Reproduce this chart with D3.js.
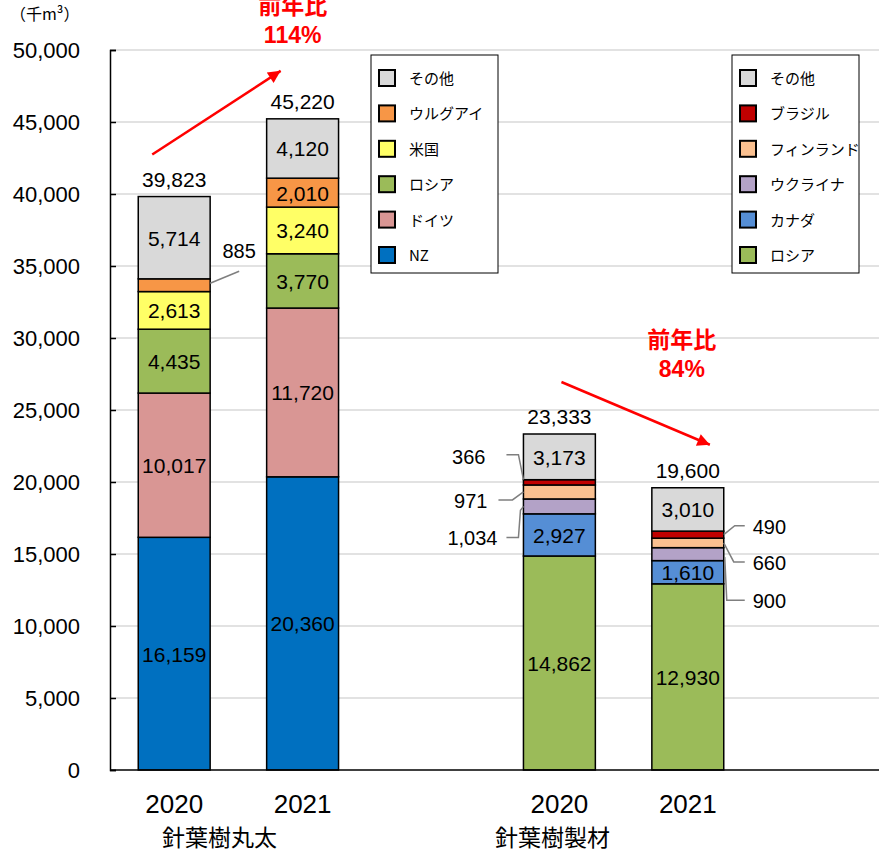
<!DOCTYPE html>
<head>
    <meta charset="utf-8">
    <script src="https://d3js.org/d3.v7.min.js"></script>
    <style>
        body {
            margin: 0;
            background: #fff;
            font-family: Arial, "Liberation Sans", "Noto Sans CJK JP", sans-serif;
        }
        .grid line { stroke: #d9d9d9; stroke-width: 1.5px; }
        .bars rect { stroke: #000; stroke-width: 1.5px; }
        .lead { fill: none; stroke: #7f7f7f; stroke-width: 1.5px; }
        .legend rect.sw { stroke: #000; stroke-width: 2px; }
        .jp { font-family: "Noto Sans CJK JP", sans-serif; }
    </style>
</head>
<body>
<svg id="svg" width="879" height="853"></svg>
<script>
// data
const years = ["2020", "2021"];
const groups = ["針葉樹丸太", "針葉樹製材"];

const logSeries = ["NZ", "ドイツ", "ロシア", "米国", "ウルグアイ", "その他"];
const logColors = ["#0070c0", "#d99694", "#9bbb59", "#ffff66", "#f79646", "#d9d9d9"];
const log2020 = [16159, 10017, 4435, 2613, 885, 5714];
const log2021 = [20360, 11720, 3770, 3240, 2010, 4120];

const lumberSeries = ["ロシア", "カナダ", "ウクライナ", "フィンランド", "ブラジル", "その他"];
const lumberColors = ["#9bbb59", "#558ed5", "#b3a2c7", "#fac090", "#c00000", "#d9d9d9"];
const lumber2020 = [14862, 2927, 1034, 971, 366, 3173];
const lumber2021 = [12930, 1610, 900, 660, 490, 3010];

const yTicks = [0, 5000, 10000, 15000, 20000, 25000, 30000, 35000, 40000, 45000, 50000];

const columns = [
    { key: "log-2020", year: years[0], values: log2020, colors: logColors },
    { key: "log-2021", year: years[1], values: log2021, colors: logColors },
    { key: "lumber-2020", year: years[0], values: lumber2020, colors: lumberColors },
    { key: "lumber-2021", year: years[1], values: lumber2021, colors: lumberColors }
];

const svg = d3.select("#svg");
const fmt = d3.format(",");

const x = d3.scaleBand()
    .domain(["log-2020", "log-2021", "gap", "lumber-2020", "lumber-2021"])
    .range([110, 752])
    .paddingInner(0.44)
    .paddingOuter(0.22);
const bw = x.bandwidth();
const y = d3.scaleLinear().domain([0, 50000]).range([770, 50]);

// grid
svg.append("g").attr("class", "grid")
    .selectAll("line").data(yTicks.slice(1)).enter().append("line")
    .attr("x1", 110).attr("x2", 879)
    .attr("y1", d => y(d)).attr("y2", d => y(d));

// y axis
const yAxis = svg.append("g")
    .attr("transform", "translate(110,0)")
    .call(d3.axisLeft(y).tickValues(yTicks).tickFormat(fmt).tickSize(-6).tickPadding(30));
yAxis.select(".domain").attr("stroke", "#000").attr("stroke-width", 1.5);
yAxis.selectAll(".tick line").attr("stroke", "#000").attr("stroke-width", 1.5);
yAxis.selectAll(".tick text").attr("font-size", 22).attr("font-family", "Arial, 'Liberation Sans', sans-serif").attr("fill", "#000");

svg.append("text").attr("class", "jp")
    .attr("x", 10).attr("y", 20).attr("font-size", 16)
    .text("（千m³）");

// bars
columns.forEach(c => {
    const ends = Array.from(d3.cumsum(c.values));
    c.segs = c.values.map((v, i) => ({ v: v, y0: ends[i] - v, y1: ends[i], color: c.colors[i] }));
    c.total = d3.sum(c.values);
});

const bars = svg.append("g").attr("class", "bars");
columns.forEach(c => {
    const g = bars.append("g");
    g.selectAll("rect").data(c.segs).enter().append("rect")
        .attr("x", x(c.key))
        .attr("width", bw)
        .attr("y", d => y(d.y1))
        .attr("height", d => y(d.y0) - y(d.y1))
        .attr("fill", d => d.color);
    g.selectAll("text").data(c.segs.filter(d => d.v >= 1500)).enter().append("text")
        .attr("x", x(c.key) + bw / 2)
        .attr("y", d => y((d.y0 + d.y1) / 2) + 8)
        .attr("text-anchor", "middle")
        .attr("font-size", 21)
        .text(d => fmt(d.v));
    svg.append("text")
        .attr("x", x(c.key) + bw / 2)
        .attr("y", y(c.total) - 10)
        .attr("text-anchor", "middle")
        .attr("font-size", 21)
        .text(fmt(c.total));
    svg.append("text")
        .attr("x", x(c.key) + bw / 2)
        .attr("y", 813)
        .attr("text-anchor", "middle")
        .attr("font-size", 26)
        .text(c.year);
});

// x axis baseline
svg.append("line")
    .attr("x1", 110).attr("x2", 879)
    .attr("y1", y(0)).attr("y2", y(0))
    .attr("stroke", "#000").attr("stroke-width", 1.5);

// group labels
const logMid = (x("log-2020") + x("log-2021") + bw) / 2;
const lumMid = (x("lumber-2020") + x("lumber-2021") + bw) / 2;
svg.append("text").attr("class", "jp").attr("x", logMid - 19).attr("y", 846)
    .attr("text-anchor", "middle").attr("font-size", 23).text(groups[0]);
svg.append("text").attr("class", "jp").attr("x", lumMid - 71).attr("y", 846)
    .attr("text-anchor", "middle").attr("font-size", 23).text(groups[1]);

// outside labels with leader lines
function lead(pts, label, tx, ty, anchor) {
    svg.append("path").attr("class", "lead").attr("d", d3.line()(pts));
    svg.append("text").attr("x", tx).attr("y", ty)
        .attr("text-anchor", anchor).attr("font-size", 20).text(label);
}
function segMid(c, i) { return y((c.segs[i].y0 + c.segs[i].y1) / 2); }

// 丸太 2020 ウルグアイ
{
    const c = columns[0], r = x(c.key) + bw, yc = segMid(c, 4);
    lead([[r, yc - 2], [r + 29, yc - 14]], fmt(c.values[4]), r + 29, yc - 27, "middle");
}
// 製材 2020
{
    const c = columns[2], l = x(c.key);
    const yTop = y(c.segs[4].y1);
    lead([[l - 17, yTop - 25], [l - 5, yTop - 25], [l, yTop]], fmt(c.values[4]), l - 38, yTop - 16, "end");
    const y3 = segMid(c, 3);
    lead([[l - 25, y3 + 8], [l - 11, y3 + 8], [l, y3]], fmt(c.values[3]), l - 36, y3 + 16, "end");
    const y2 = segMid(c, 2);
    lead([[l - 17, y2 + 31], [l - 5, y2 + 31], [l - 3, y2 + 4], [l, y2]], fmt(c.values[2]), l - 26, y2 + 39, "end");
}
// 製材 2021
{
    const c = columns[3], r = x(c.key) + bw;
    const y4 = segMid(c, 4);
    lead([[r, y4], [r + 11, y4 - 9], [r + 21, y4 - 9]], fmt(c.values[4]), r + 29, y4 - 1, "start");
    const y3 = segMid(c, 3);
    lead([[r, y3], [r + 10, y3 + 19], [r + 21, y3 + 19]], fmt(c.values[3]), r + 29, y3 + 27, "start");
    const y2 = segMid(c, 2);
    lead([[r + 1, y2 + 3], [r + 3, y2 + 46], [r + 21, y2 + 46]], fmt(c.values[2]), r + 29, y2 + 54, "start");
}

// year-on-year arrows
svg.append("defs").append("marker")
    .attr("id", "head").attr("viewBox", "0 0 10 10")
    .attr("refX", 10).attr("refY", 5)
    .attr("markerWidth", 6).attr("markerHeight", 5)
    .attr("markerUnits", "strokeWidth")
    .attr("orient", "auto")
    .append("path").attr("d", "M0,0 L10,5 L0,10 Z").attr("fill", "#ff0000");

function ratio(a, b, x1, y1, x2, y2, tx, ty) {
    svg.append("line")
        .attr("x1", x1).attr("y1", y1).attr("x2", x2).attr("y2", y2)
        .attr("stroke", "#ff0000").attr("stroke-width", 2.5)
        .attr("marker-end", "url(#head)");
    const t = svg.append("text").attr("text-anchor", "middle")
        .attr("font-size", 23).attr("font-weight", "bold").attr("fill", "#ff0000");
    t.append("tspan").attr("class", "jp").attr("x", tx).attr("y", ty).text("前年比");
    t.append("tspan").attr("x", tx).attr("y", ty + 29).text(Math.round(b / a * 100) + "%");
}
{
    const a = columns[0], b = columns[1];
    ratio(a.total, b.total,
        x(a.key) + 14, y(a.total) - 42, x(b.key) + 14, y(b.total) - 48,
        x(b.key) + 26, 14);
    const c = columns[2], d = columns[3];
    ratio(c.total, d.total,
        x(c.key) + 38, y(c.total) - 52, x(d.key) + 58, y(d.total) - 43,
        x(d.key) + 30, 348);
}

// legends
function legend(x0, series, colors) {
    const g = svg.append("g").attr("class", "legend");
    g.append("rect").attr("x", x0).attr("y", 55).attr("width", 127).attr("height", 218)
        .attr("fill", "#fff").attr("stroke", "#000").attr("stroke-width", 1);
    const items = series.map((s, i) => ({ s: s, c: colors[i] })).reverse();
    const row = g.selectAll("g").data(items).enter().append("g")
        .attr("transform", (d, i) => "translate(" + x0 + "," + (78 + i * 35.4) + ")");
    row.append("rect").attr("class", "sw").attr("x", 8).attr("y", -8)
        .attr("width", 16).attr("height", 16).attr("fill", d => d.c);
    row.append("text").attr("class", "jp").attr("x", 38).attr("y", 6)
        .attr("font-size", 15).text(d => d.s);
}
legend(371, logSeries, logColors);
legend(732, lumberSeries, lumberColors);
</script>
</body>
